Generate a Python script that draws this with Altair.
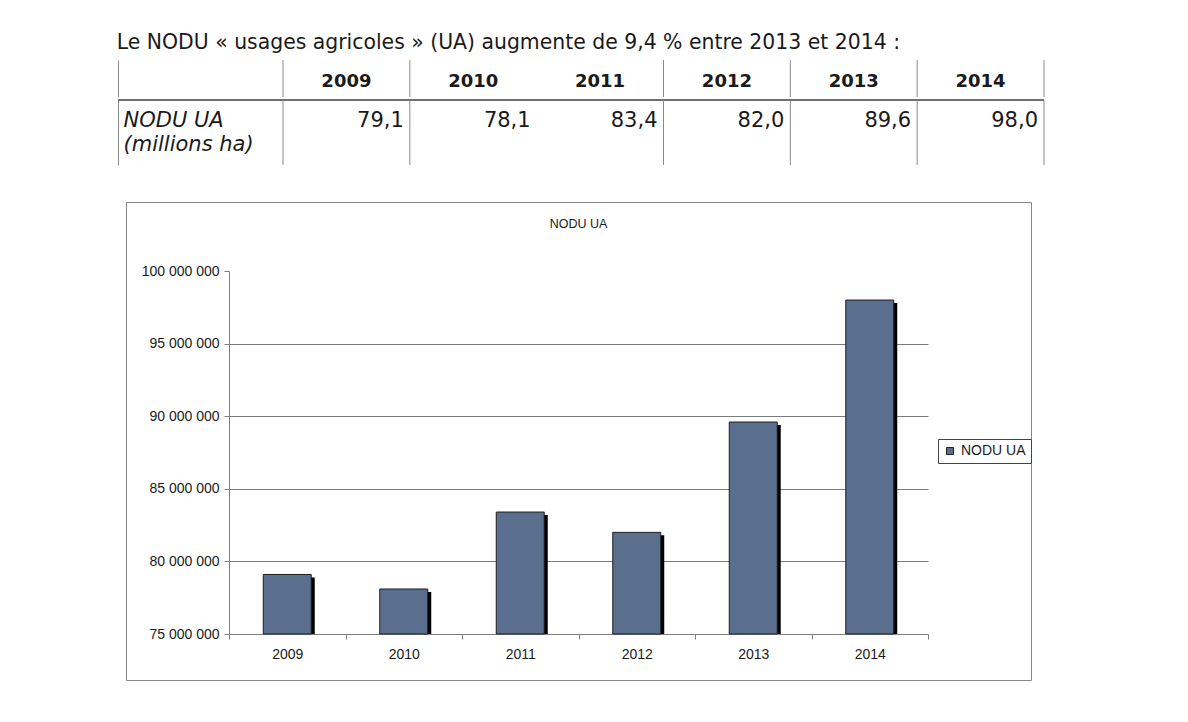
import altair as alt
import pandas as pd

# ---------------- data ----------------
header_text = "Le NODU « usages agricoles » (UA) augmente de 9,4 % entre 2013 et 2014 :"
years = ["2009", "2010", "2011", "2012", "2013", "2014"]
nodu_millions = [79.1, 78.1, 83.4, 82.0, 89.6, 98.0]
nodu_ha = [79_100_000, 78_100_000, 83_400_000, 82_000_000, 89_600_000, 98_000_000]
row_label = "NODU UA|(millions ha)"
series_name = "NODU UA"
chart_title = "NODU UA"
y_ticks = [75_000_000, 80_000_000, 85_000_000, 90_000_000, 95_000_000, 100_000_000]

table_df = pd.DataFrame({"year": years, "v": nodu_millions, "row": row_label, "hrow": "h"})
bar_df = pd.DataFrame({"year": years, "ha": nodu_ha, "series": series_name})

# ---------------- styles ----------------
TABLE_FONT = "DejaVu Sans"
CHART_FONT = "Liberation Sans"
TXT = "#1a1a1a"
LINE = "#8a8a8a"
AX = "#808080"
BAR = "#5a6e8e"

# ---------------- table ----------------
xs_table = alt.Scale(domain=years, range=[165, 926], paddingInner=0, paddingOuter=0)

hy = alt.Y("hrow:N", axis=alt.Axis(title=None, labels=False, ticks=False, domain=True,
                                   domainColor=LINE, grid=False))
base_h = alt.Chart(table_df)
h_text = base_h.mark_text(font=TABLE_FONT, fontSize=18, fontWeight="bold", color=TXT, dy=3).encode(
    x=alt.X("year:N", scale=xs_table, axis=None), y=hy, text="year:N")
h_rules = base_h.transform_filter("datum.year != '2011'").mark_rule(color=LINE).encode(
    x=alt.X("year:N", scale=xs_table, axis=None, bandPosition=0))
h_rule_end = base_h.transform_filter("datum.year == '2014'").mark_rule(color=LINE).encode(
    x=alt.X("year:N", scale=xs_table, axis=None, bandPosition=1))
header = alt.layer(h_text, h_rules, h_rule_end).properties(width=926, height=37)

row_axis = alt.Axis(title=None, ticks=False, tickSize=0, domain=True, domainColor=LINE,
                    labelAlign="left", labelPadding=-5, labelOffset=-12,
                    labelExpr="split(datum.label, '|')",
                    labelFont=TABLE_FONT, labelFontSize=21, labelFontStyle="italic",
                    labelColor=TXT, labelLineHeight=24, labelBaseline="middle",
                    grid=False)
base_v = alt.Chart(table_df)
v_text = base_v.transform_calculate(
    label="replace(format(datum.v, '.1f'), '.', ',')"
).mark_text(align="right", dx=-6, dy=-12, font=TABLE_FONT, fontSize=21, color=TXT).encode(
    x=alt.X("year:N", scale=xs_table, axis=None, bandPosition=1),
    y=alt.Y("row:N", axis=row_axis), text="label:N")
v_hline = base_v.mark_rule(color="#707070", strokeWidth=1.5).encode(
    y=alt.Y("row:N", bandPosition=0, axis=row_axis))
v_rules = base_v.transform_filter("datum.year != '2011'").mark_rule(color=LINE).encode(
    x=alt.X("year:N", scale=xs_table, axis=None, bandPosition=0))
v_rule_end = base_v.transform_filter("datum.year == '2014'").mark_rule(color=LINE).encode(
    x=alt.X("year:N", scale=xs_table, axis=None, bandPosition=1))
values_row = alt.layer(v_text, v_hline, v_rules, v_rule_end).properties(width=926, height=65)

table = alt.vconcat(header, values_row, spacing=0)

# ---------------- bar chart ----------------
xs_bar = alt.Scale(domain=years, range=[103, 802], paddingInner=0, paddingOuter=0)
ys_bar = alt.Scale(domain=[y_ticks[0], y_ticks[-1]], range=[432, 69], nice=False, zero=False)

x_enc = alt.X("year:N", scale=xs_bar,
              axis=alt.Axis(title=None, offset=-46, tickBand="extent", tickSize=5, tickColor=AX,
                            domainColor=AX, labelFont=CHART_FONT, labelFontSize=14, labelColor=TXT,
                            labelPadding=8, labelAngle=0, grid=False))
y_enc = alt.Y("ha:Q", scale=ys_bar,
              axis=alt.Axis(title=None, offset=-103, values=y_ticks, tickSize=5, tickColor=AX,
                            domainColor=AX, labelFont=CHART_FONT, labelFontSize=14, labelColor=TXT,
                            labelPadding=5,
                            labelExpr="replace(replace(format(datum.value, ','), ',', ' '), ',', ' ')",
                            grid=True, gridColor="#7a7a7a",
                            gridOpacity={"condition": {"test": "datum.value >= 100000000", "value": 0},
                                         "value": 1}))

shadow = alt.Chart(bar_df).mark_bar(color="black", xOffset=3.5, yOffset=3,
                                    width=alt.RelativeBandSize(0.412)).encode(
    x=x_enc, y=y_enc, y2=alt.datum(y_ticks[0]))
bars = alt.Chart(bar_df).mark_bar(stroke="#1e1e1e", strokeWidth=1,
                                  width=alt.RelativeBandSize(0.412)).encode(
    x=x_enc, y=y_enc, y2=alt.datum(y_ticks[0]),
    color=alt.Color("series:N", scale=alt.Scale(range=[BAR]),
                    legend=alt.Legend(title=None, orient="none", legendX=820, legendY=379,
                                      strokeColor="#444", fillColor="white", padding=5,
                                      symbolType="square", symbolSize=49,
                                      symbolStrokeColor="#222", symbolStrokeWidth=1,
                                      labelFont=CHART_FONT, labelFontSize=14, labelColor=TXT,
                                      labelOffset=4)))

barchart = alt.layer(shadow, bars).properties(
    width=905, height=478,
    view=alt.ViewBackground(stroke="#888888", strokeWidth=1, fill="white"),
    title=alt.Title(chart_title, font=CHART_FONT, fontSize=12.5, fontWeight="normal",
                    color=TXT, offset=-28),
)

# empty spacer that indents the chart box relative to the table
spacer = alt.Chart(pd.DataFrame({"s": [""]})).mark_text().encode(text="s:N").properties(
    width=7, height=10)
bar_row = alt.hconcat(spacer, barchart, spacing=0)

chart = alt.vconcat(table, bar_row, spacing=35).properties(
    title=alt.Title(header_text, anchor="start", font=TABLE_FONT, fontSize=20.4,
                    fontWeight="normal", color=TXT, offset=6),
    padding={"left": 108, "top": 24, "right": 20, "bottom": 10},
).configure_view(stroke="transparent")

chart.save("out.html", embed_options={"renderer": "svg", "actions": False})
